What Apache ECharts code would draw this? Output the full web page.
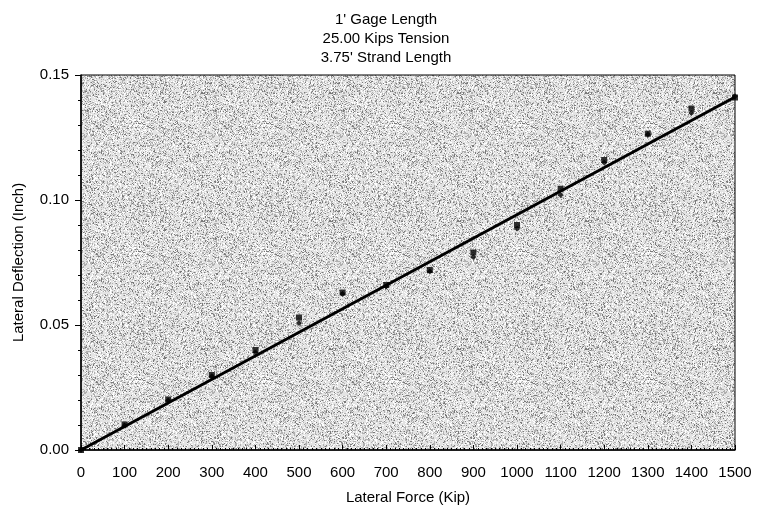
<!DOCTYPE html>
<html>
<head>
<meta charset="utf-8">
<title>Lateral Deflection vs Lateral Force</title>
<script src="https://cdn.jsdelivr.net/npm/echarts@6/dist/echarts.min.js"></script>
<style>
  html, body { margin: 0; padding: 0; background: #fff; }
  #chart { width: 759px; height: 516px; }
</style>
</head>
<body>
<div id="chart"></div>
<script>
// 读图得到的数据：横轴为侧向力，每个力值有两次读数
var aForce = [0, 100, 200, 300, 400, 500, 600, 700, 800, 900, 1000, 1100, 1200, 1300, 1400, 1500];
var aDeflA = [0, 0.0102, 0.0202, 0.0300, 0.0400, 0.0530, 0.0630, 0.0660, 0.0720, 0.0790, 0.0900, 0.1045, 0.1160, 0.1265, 0.1366, 0.1410];
var aDeflB = [0, 0.0098, 0.0198, 0.0295, 0.0390, 0.0508, 0.0624, 0.0654, 0.0714, 0.0772, 0.0886, 0.1020, 0.1150, 0.1262, 0.1348, 0.1415];
// 拟合直线的两个端点
var aFitForce = [0, 1500];
var aFitDefl = [0, 0.1412];
var aTitle = ["1' Gage Length", "25.00 Kips Tension", "3.75' Strand Length"];

function Pairs(aX, aY) {
    var aOut = [];
    for (var i = 0; i < aX.length; i++) {
        aOut.push([aX[i], aY[i]]);
    }
    return aOut
}

// 背景的点状纹理，用固定的哈希生成，不用随机数
function MakeStipple() {
    var n = 128;
    var oCanvas = document.createElement('canvas');
    oCanvas.width = n;
    oCanvas.height = n;
    var ctx = oCanvas.getContext('2d');
    ctx.fillStyle = '#e4e4e4';
    ctx.fillRect(0, 0, n, n);
    for (var y = 0; y < n; y++) {
        for (var x = 0; x < n; x++) {
            var h = Math.imul(x + 1, 374761393) ^ Math.imul(y + 7, 668265263);
            h = Math.imul(h ^ (h >>> 13), 1274126177);
            h = (h ^ (h >>> 16)) >>> 0;
            var r = (h & 1023) / 1023;
            if (r < 0.30) {
                ctx.fillStyle = r < 0.08 ? '#7a7a7a' : '#b0b0b0';
                ctx.fillRect(x, y, 1, 1);
            } else if (r > 0.85) {
                ctx.fillStyle = '#ffffff';
                ctx.fillRect(x, y, 1, 1);
            }
        }
    }
    return oCanvas
}

var sFont = 'Liberation Sans, Arial, sans-serif';
var iFontSize = 15;

var jOption = {
    animation: false,
    textStyle: {fontFamily: sFont},
    title: {
        text: aTitle.join('\n'),
        left: 381,
        top: 5,
        textAlign: 'center',
        textStyle: {fontSize: iFontSize, fontWeight: 'normal', color: '#000', lineHeight: 19, fontFamily: sFont}
    },
    grid: {
        left: 81, right: 24, top: 75, bottom: 66,
        show: true,
        borderColor: '#000',
        borderWidth: 1,
        backgroundColor: {image: MakeStipple(), repeat: 'repeat'}
    },
    xAxis: {
        type: 'value',
        min: 0, max: 1500, interval: 100,
        name: 'Lateral Force (Kip)',
        nameLocation: 'middle',
        nameGap: 40,
        nameTextStyle: {fontSize: iFontSize, color: '#000', fontFamily: sFont},
        axisLine: {lineStyle: {color: '#000', width: 1.5}},
        axisTick: {inside: true, length: 5, lineStyle: {color: '#000'}},
        minorTick: {show: true, splitNumber: 10, length: 2, lineStyle: {color: '#000'}},
        axisLabel: {
            fontSize: iFontSize, color: '#000', margin: 15, fontFamily: sFont,
            formatter: function (v) { return String(v); }
        },
        splitLine: {show: false}
    },
    yAxis: {
        type: 'value',
        min: 0, max: 0.15, interval: 0.05,
        name: 'Lateral Deflection (Inch)',
        nameLocation: 'middle',
        nameGap: 55,
        nameTextStyle: {fontSize: iFontSize, color: '#000', fontFamily: sFont},
        axisLine: {show: true, lineStyle: {color: '#000', width: 1.5}},
        axisTick: {show: true, length: 6, lineStyle: {color: '#000'}},
        minorTick: {show: true, splitNumber: 5, length: 3, lineStyle: {color: '#000'}},
        axisLabel: {
            fontSize: iFontSize, color: '#000', margin: 12, fontFamily: sFont,
            formatter: function (v) { return v.toFixed(2); }
        },
        splitLine: {show: false}
    },
    series: [
        {//拟合直线
            name: 'fit',
            type: 'line',
            data: Pairs(aFitForce, aFitDefl),
            showSymbol: false,
            lineStyle: {color: '#000', width: 3},
            z: 3
        },
        {
            name: 'A',
            type: 'scatter',
            data: Pairs(aForce, aDeflA),
            symbol: 'rect',
            symbolSize: 6,
            itemStyle: {color: '#000'},
            z: 4
        },
        {
            name: 'B',
            type: 'scatter',
            data: Pairs(aForce, aDeflB),
            symbol: 'diamond',
            symbolSize: 6,
            itemStyle: {color: '#000'},
            z: 4
        }
    ]
};

var myChart = echarts.init(document.getElementById('chart'), null, {renderer: 'canvas'});
myChart.setOption(jOption);
</script>
</body>
</html>
